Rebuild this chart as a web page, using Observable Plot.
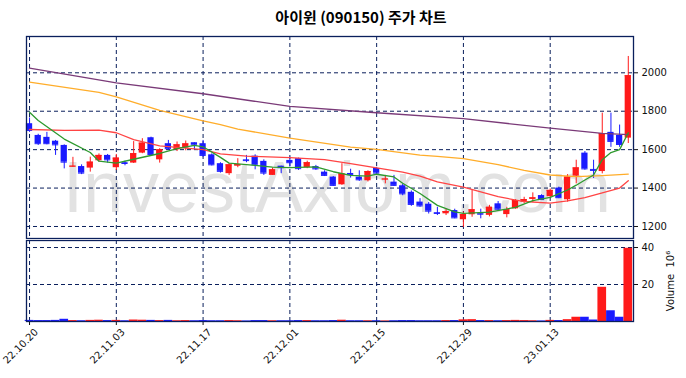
<!DOCTYPE html>
<html><head><meta charset="utf-8">
<script src="https://cdn.jsdelivr.net/npm/d3@7"></script>
<script src="https://cdn.jsdelivr.net/npm/@observablehq/plot@0.6"></script>
<style>
body{margin:0;background:#fff;}
#wrap{position:relative;width:686px;height:378px;overflow:hidden;}
#title{position:absolute;left:36px;top:6px;width:650px;text-align:center;font:bold 15px "Noto Sans CJK KR";color:#000;line-height:22px;}
#price{position:absolute;left:0;top:30px;}
#vol{position:absolute;left:0;top:240px;}
</style></head><body>
<div id="wrap"><div id="title">아이윈 (090150) 주가 차트</div><div id="price"></div><div id="vol"></div></div>
<script>
const dates = ["22.10.20","22.10.21","22.10.24","22.10.25","22.10.26","22.10.27","22.10.28","22.10.31",
"22.11.01","22.11.02","22.11.03","22.11.04","22.11.07","22.11.08","22.11.09","22.11.10","22.11.11","22.11.14","22.11.15","22.11.16","22.11.17",
"22.11.18","22.11.21","22.11.22","22.11.23","22.11.24","22.11.25","22.11.28","22.11.29","22.11.30","22.12.01",
"22.12.02","22.12.05","22.12.06","22.12.07","22.12.08","22.12.09","22.12.12","22.12.13","22.12.14","22.12.15",
"22.12.16","22.12.19","22.12.20","22.12.21","22.12.22","22.12.23","22.12.26","22.12.27","22.12.28","22.12.29",
"23.01.02","23.01.03","23.01.04","23.01.05","23.01.06","23.01.09","23.01.10","23.01.11","23.01.12","23.01.13",
"23.01.16","23.01.17","23.01.18","23.01.19","23.01.20","23.01.25","23.01.26","23.01.27","23.01.30"];
const open  = [1735,1674,1664,1644,1622,1510,1512,1504,1542,1570,1506,1532,1530,1582,1662,1547,1631,1599,1608,1636,1631,1573,1527,1475,1514,1547,1566,1539,1466,1514,1544,1553,1506,1512,1483,1457,1417,1476,1457,1438,1502,1443,1431,1412,1378,1327,1316,1272,1266,1283,1235,1261,1268,1258,1318,1262,1292,1326,1341,1361,1355,1400,1339,1462,1582,1497,1486,1690,1674,1660];
const high  = [1765,1680,1690,1648,1625,1560,1521,1561,1578,1575,1575,1540,1642,1657,1665,1605,1648,1640,1645,1636,1648,1578,1532,1527,1553,1570,1573,1547,1504,1514,1561,1556,1540,1518,1490,1460,1527,1498,1490,1490,1508,1466,1466,1420,1385,1345,1325,1300,1292,1290,1275,1388,1290,1310,1330,1300,1340,1352,1375,1365,1395,1405,1470,1545,1590,1545,1790,1790,1728,2085];
const low   = [1690,1622,1625,1570,1500,1508,1470,1483,1535,1530,1492,1516,1528,1579,1572,1530,1596,1590,1594,1599,1560,1515,1478,1466,1506,1532,1495,1466,1466,1475,1509,1492,1501,1492,1460,1409,1414,1452,1435,1432,1472,1422,1409,1360,1305,1300,1265,1257,1257,1240,1195,1248,1240,1250,1285,1245,1290,1318,1325,1340,1345,1345,1327,1422,1493,1450,1474,1612,1612,1632];
const close = [1700,1631,1631,1625,1535,1514,1478,1535,1570,1547,1556,1528,1579,1634,1575,1599,1605,1625,1630,1625,1570,1521,1487,1521,1522,1543,1521,1478,1495,1506,1532,1501,1532,1500,1466,1414,1474,1470,1443,1486,1478,1447,1414,1370,1315,1307,1280,1268,1278,1245,1262,1287,1264,1300,1290,1287,1335,1340,1349,1340,1388,1350,1457,1505,1500,1492,1683,1643,1627,1985];
const volume = [0.6,0.5,0.5,0.6,1.2,0.5,0.4,0.6,0.7,0.5,0.6,0.4,0.8,0.7,0.6,0.5,0.6,0.4,0.5,0.4,0.5,0.4,0.4,0.5,0.4,0.3,0.5,0.5,0.4,0.4,0.4,0.5,0.5,0.4,0.4,0.5,0.7,0.4,0.4,0.4,0.4,0.3,0.4,0.5,0.5,0.4,0.4,0.4,0.5,0.5,0.9,1.0,0.5,0.5,0.4,0.5,0.6,0.5,0.4,0.3,0.6,0.5,1.0,2.3,2.3,0.8,18.5,5.8,2.3,39.6];

const ma5  = [[0,1795],[1,1752],[4,1655],[7,1585],[8,1540],[10,1530],[12,1550],[15,1580],[17,1605],[19,1622],[20,1615],[22,1560],[23,1530],[26,1518],[28,1509],[30,1506],[33,1510],[35,1485],[37,1466],[39,1462],[40,1472],[42,1458],[43,1425],[45,1372],[47,1310],[49,1276],[50,1268],[53,1275],[56,1300],[58,1335],[60,1352],[62,1390],[63,1415],[64,1442],[65,1468],[66,1548],[67,1585],[68,1600],[69,1688]];
const ma20 = [[0,1705],[4,1700],[8,1702],[10,1688],[12,1652],[15,1620],[20,1600],[22,1578],[25,1566],[30,1558],[34,1548],[37,1527],[40,1505],[43,1483],[45,1462],[47,1432],[50,1405],[54,1355],[57,1330],[60,1322],[62,1333],[64,1350],[66,1375],[68,1400],[69,1438]];
const ma60 = [[0,1952],[8,1898],[10,1875],[15,1804],[20,1750],[22,1730],[24,1707],[30,1660],[37,1613],[40,1601],[45,1572],[47,1565],[50,1553],[54,1522],[57,1492],[60,1468],[63,1460],[66,1465],[69,1473]];
const ma120 = [[0,2024],[10,1948],[20,1891],[30,1825],[40,1792],[50,1761],[60,1712],[66,1685],[69,1678]];

const priceTicks = [1200,1400,1600,1800,2000];
const volTicks = [20,40];
const xTickIdx = [0,10,20,30,40,50,60];
const watermark = ["InvestAxiom.com"];

const UP = "#ff1a1a", DOWN = "#1a1aff", NAVY = "#0a1f5c";
const rows = dates.map((d,i)=>({i, d, o:open[i], h:high[i], l:low[i], c:close[i], v:volume[i], col: close[i]>=open[i]?UP:DOWN}));
const xDomain = [-0.35, 69.6];
const grid = {stroke: NAVY, strokeDasharray: "4,3", strokeWidth: 1};
const st = {fontFamily: "DejaVu Sans", fontSize: "10px", color: "#111", background: "transparent"};

const price = Plot.plot({
  width: 686, height: 210,
  marginLeft: 26, marginRight: 53, marginTop: 6, marginBottom: 2,
  style: st,
  x: {type: "linear", domain: xDomain, axis: null},
  y: {domain: [1137.5, 2189], axis: null},
  color: {type: "identity"},
  marks: [
    Plot.text(watermark, {frameAnchor: "middle", dx: 7, dy: 51, fontSize: 72, fill: "#e2e2e2", fontFamily: "Liberation Sans"}),
    Plot.ruleY(priceTicks, grid),
    Plot.ruleX(xTickIdx, grid),
    Plot.ruleX(rows, {x: "i", y1: "l", y2: "h", stroke: "col", strokeWidth: 1}),
    Plot.rect(rows, {x1: d=>d.i-0.36, x2: d=>d.i+0.36, y1: "o", y2: "c", fill: "col"}),
    Plot.ruleY(rows, {x1: d=>d.i-0.36, x2: d=>d.i+0.36, y: "c", stroke: "col", strokeWidth: 1}),
    Plot.line(ma120, {x: d=>d[0], y: d=>d[1], stroke: "#7a3a78", strokeWidth: 1.3}),
    Plot.line(ma60, {x: d=>d[0], y: d=>d[1], stroke: "#ffad2a", strokeWidth: 1.3}),
    Plot.line(ma20, {x: d=>d[0], y: d=>d[1], stroke: "#ff4444", strokeWidth: 1.3}),
    Plot.line(ma5, {x: d=>d[0], y: d=>d[1], stroke: "#2e9a2e", strokeWidth: 1.3}),
    Plot.axisY(priceTicks, {anchor: "right", tickSize: 4, tickPadding: 4, tickFormat: d=>String(d), label: null}),
    Plot.frame({stroke: NAVY, strokeWidth: 1.3})
  ]
});
document.getElementById("price").appendChild(price);

const vol = Plot.plot({
  width: 686, height: 138,
  marginLeft: 26, marginRight: 53, marginTop: 0, marginBottom: 57,
  style: st,
  x: {type: "linear", domain: xDomain},
  y: {domain: [0, 43.8]},
  color: {type: "identity"},
  marks: [
    Plot.ruleY(volTicks, grid),
    Plot.ruleX(xTickIdx, grid),
    Plot.rect(rows, {x1: d=>d.i-0.5, x2: d=>d.i+0.5, y1: 0, y2: "v", fill: "col"}),
    Plot.axisY(volTicks, {anchor: "right", tickSize: 4, tickPadding: 4, label: "Volume  10⁶", labelAnchor: "center", labelOffset: 40, labelArrow: "none"}),
    Plot.axisX(xTickIdx, {anchor: "bottom", tickSize: 4, tickFormat: () => "", label: null}),
    Plot.axisX(xTickIdx, {anchor: "bottom", tickSize: 0, tickPadding: 6, tickRotate: -45, dx: 7, dy: 3, tickFormat: i=>dates[i], label: null}),
    Plot.frame({stroke: NAVY, strokeWidth: 1.3})
  ]
});
document.getElementById("vol").appendChild(vol);
</script>
</body></html>
